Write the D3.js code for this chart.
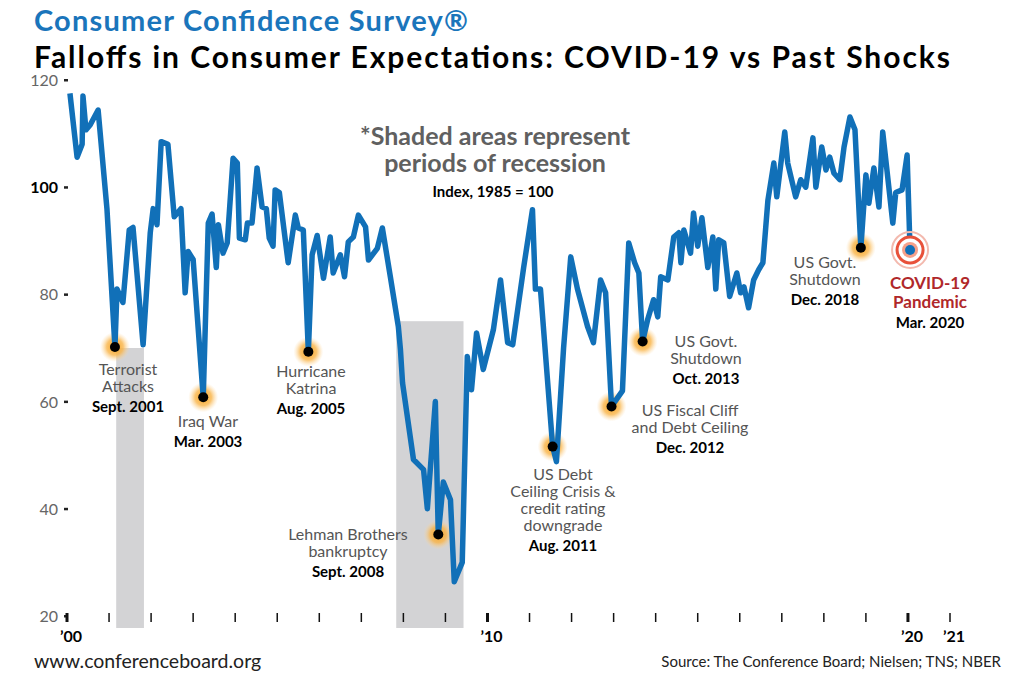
<!DOCTYPE html>
<html><head><meta charset="utf-8">
<script src="https://cdn.jsdelivr.net/npm/d3@7"></script>
<style>body{margin:0;background:#fff}svg{font-family:Lato,"Open Sans",sans-serif}</style>
</head><body>
<svg id="chart" width="1024" height="687"></svg>
<script>
// years since 2000 (decimal) and index values
var dates = [0.07,0.24,0.36,0.38,0.45,0.55,0.74,0.95,1.14,1.19,1.33,1.48,1.57,1.81,1.98,2.05,2.14,2.24,2.40,2.55,2.71,2.81,2.88,3.0,3.24,3.36,3.45,3.55,3.60,3.71,3.81,3.95,4.05,4.10,4.24,4.29,4.40,4.52,4.64,4.74,4.81,4.90,4.95,5.05,5.26,5.43,5.50,5.62,5.74,5.83,5.95,6.10,6.26,6.33,6.50,6.60,6.69,6.81,6.93,7.10,7.17,7.38,7.50,7.69,7.88,7.93,7.98,8.24,8.48,8.57,8.76,8.83,8.95,9.12,9.21,9.40,9.52,9.62,9.74,9.90,10.14,10.31,10.48,10.60,10.86,11.07,11.14,11.26,11.55,11.64,11.81,11.98,12.14,12.38,12.52,12.69,12.81,12.95,13.21,13.36,13.50,13.60,13.69,13.81,13.95,14.05,14.12,14.29,14.43,14.55,14.60,14.67,14.83,14.90,15.00,15.10,15.24,15.36,15.43,15.50,15.62,15.76,15.93,16.02,16.10,16.21,16.33,16.45,16.55,16.67,16.81,16.88,17.07,17.14,17.33,17.45,17.57,17.74,17.81,17.95,18.05,18.14,18.24,18.38,18.48,18.62,18.74,18.88,19.0,19.07,19.19,19.31,19.40,19.50,19.64,19.71,19.86,19.98,20.05];
var values = [117.5,105.6,108,117,110.7,111.6,114.4,96,70.2,81,78.5,92,92.5,70.6,91.5,96,93,108.5,108,94.5,96,80.3,88,86.5,60.8,93.3,95,85,93,87.7,89.6,105.4,104.5,90.5,90.2,93.3,93.3,103.6,96.3,96,90.5,89,99.5,99,85.9,94.8,92.4,92,69.3,87.4,91,83,90.7,84,87.4,83.3,89.8,90.7,94.8,92.6,86.4,88.6,92.4,83.3,74,69.7,63.5,49.2,47.3,40,60,35.2,45,41.7,26.4,30,68.4,62.2,72.8,66,73.4,82.7,71,70.6,85,95.8,81,81,51.6,48.8,70,87,81,74,71,82.7,80.3,59.1,62,89.6,85.9,84,71.2,75.3,79,75.8,83.3,82.7,90.7,91.5,85.9,92,87.7,95.2,89,94.3,85,90.7,81,90.2,89.6,79.6,84,80.3,81.4,77.5,82.7,84.6,85.9,97.6,104.5,98.2,110.3,104.5,98.2,101.4,100,109.2,100,107.5,103.2,105.6,102.6,101.4,107.5,113.1,110.7,88.7,102.3,97,103.6,96.3,110.3,103.2,93.3,99,99.5,106,88.3];
var yTicks = [20,40,60,80,100,120];
var xTickLabels = [[0,"\u201900"],[10,"\u201910"],[20,"\u201920"],[21,"\u201921"]];
var recessions = [[1.17,1.83],[7.83,9.43]];
// events: year, value, text lines, date label
var events = [
  {t:1.14, v:70.2, lines:["Terrorist","Attacks"], date:"Sept. 2001", cx:128, y:375},
  {t:3.24, v:60.8, lines:["Iraq War"], date:"Mar. 2003", cx:208, y:427},
  {t:5.74, v:69.3, lines:["Hurricane","Katrina"], date:"Aug. 2005", cx:311, y:377},
  {t:8.83, v:35.2, lines:["Lehman Brothers","bankruptcy"], date:"Sept. 2008", cx:348, y:540},
  {t:11.55, v:51.6, lines:["US Debt","Ceiling Crisis &","credit rating","downgrade"], date:"Aug. 2011", cx:563, y:480},
  {t:12.95, v:59.1, lines:["US Fiscal Cliff","and Debt Ceiling"], date:"Dec. 2012", cx:690, y:416},
  {t:13.69, v:71.2, lines:["US Govt.","Shutdown"], date:"Oct. 2013", cx:706, y:347},
  {t:18.88, v:88.7, lines:["US Govt.","Shutdown"], date:"Dec. 2018", cx:825, y:268}
];

var svg = d3.select('#chart');
var x = d3.scaleLinear().domain([0, 21]).range([67, 950]);
var y = d3.scaleLinear().domain([20, 120]).range([616, 80]);

var defs = svg.append('defs');
var grad = defs.append('radialGradient').attr('id', 'glow');
grad.append('stop').attr('offset', '0%').attr('stop-color', '#f7a21b').attr('stop-opacity', 1);
grad.append('stop').attr('offset', '55%').attr('stop-color', '#f9b54a').attr('stop-opacity', 0.8);
grad.append('stop').attr('offset', '100%').attr('stop-color', '#fdd9a0').attr('stop-opacity', 0);

// recession shading
svg.append('g').selectAll('rect').data(recessions).enter().append('rect')
  .attr('x', function(d){ return x(d[0]); })
  .attr('width', function(d){ return x(d[1]) - x(d[0]); })
  .attr('y', function(d, i){ return i === 0 ? y(70) : y(75); })
  .attr('height', function(d, i){ return 628 - (i === 0 ? y(70) : y(75)); })
  .attr('fill', '#d3d3d5');

// y axis
var ya = svg.append('g');
yTicks.forEach(function(t){
  ya.append('text').attr('x', 58).attr('y', y(t) + 6).attr('text-anchor', 'end')
    .attr('font-size', 16).attr('fill', t === 100 ? '#000' : '#666')
    .attr('font-weight', t === 100 ? 'bold' : 'normal').text(t);
  ya.append('rect').attr('x', 64).attr('y', y(t) - 1).attr('width', 4).attr('height', 2.5).attr('fill', '#222');
});

// x axis ticks
var xa = svg.append('g');
d3.range(0, 22).forEach(function(t){
  var major = (t === 0 || t === 10 || t === 20);
  xa.append('line').attr('x1', x(t)).attr('x2', x(t)).attr('y1', 613).attr('y2', 622)
    .attr('stroke', '#111').attr('stroke-width', major ? 3 : 1.5);
});
xTickLabels.forEach(function(d){
  xa.append('text').attr('x', x(d[0]) + 4).attr('y', 642).attr('text-anchor', 'middle')
    .attr('font-size', 16).attr('font-weight', 'bold').text(d[1]);
});

// glows
svg.append('g').selectAll('circle').data(events).enter().append('circle')
  .attr('cx', function(d){ return x(d.t); }).attr('cy', function(d){ return y(d.v); })
  .attr('r', 15).attr('fill', 'url(#glow)');

// line
var pts = dates.map(function(d, i){ return [d, values[i]]; });
svg.append('path').datum(pts)
  .attr('d', d3.line().x(function(d){ return x(d[0]); }).y(function(d){ return y(d[1]); }))
  .attr('fill', 'none').attr('stroke', '#1170b8').attr('stroke-width', 5.5)
  .attr('stroke-linejoin', 'round');

// dots
svg.append('g').selectAll('circle').data(events).enter().append('circle')
  .attr('cx', function(d){ return x(d.t); }).attr('cy', function(d){ return y(d.v); })
  .attr('r', 5).attr('fill', '#000');

// labels
events.forEach(function(e){
  var g = svg.append('g').attr('text-anchor', 'middle');
  e.lines.forEach(function(l, i){
    g.append('text').attr('x', e.cx).attr('y', e.y + i * 17).attr('font-size', 16)
      .attr('fill', '#555').text(l);
  });
  g.append('text').attr('x', e.cx).attr('y', e.y + e.lines.length * 17 + 3).attr('font-size', 15)
    .attr('font-weight', 'bold').attr('fill', '#000').text(e.date);
});

// COVID target
var cx = x(dates[dates.length - 1]), cy = y(values[values.length - 1]);
svg.append('circle').attr('cx', cx).attr('cy', cy).attr('r', 18).attr('fill', 'none').attr('stroke', '#f3b9ae').attr('stroke-width', 2);
svg.append('circle').attr('cx', cx).attr('cy', cy).attr('r', 13).attr('fill', '#fff').attr('stroke', '#e8513a').attr('stroke-width', 3);
svg.append('circle').attr('cx', cx).attr('cy', cy).attr('r', 8).attr('fill', '#f6a08a');
svg.append('circle').attr('cx', cx).attr('cy', cy).attr('r', 5).attr('fill', '#1170b8');
var cg = svg.append('g').attr('text-anchor', 'middle').attr('font-weight', 'bold');
cg.append('text').attr('x', 930).attr('y', 289).attr('font-size', 17).attr('fill', '#b0282a').text('COVID-19');
cg.append('text').attr('x', 930).attr('y', 308).attr('font-size', 17).attr('fill', '#b0282a').text('Pandemic');
cg.append('text').attr('x', 930).attr('y', 328).attr('font-size', 15).attr('fill', '#000').text('Mar. 2020');

// center note
var ng = svg.append('g').attr('text-anchor', 'middle').attr('font-weight', 'bold');
ng.append('text').attr('x', 495).attr('y', 145).attr('font-size', 25).attr('fill', '#606060').text('*Shaded areas represent');
ng.append('text').attr('x', 495).attr('y', 172).attr('font-size', 25).attr('fill', '#606060').text('periods of recession');
ng.append('text').attr('x', 493).attr('y', 197).attr('font-size', 15).attr('fill', '#000').text('Index, 1985 = 100');

// titles
svg.append('text').attr('x', 34).attr('y', 31).attr('font-size', 29).attr('font-weight', 'bold')
  .attr('fill', '#1a75bb').attr('textLength', 434).text('Consumer Confidence Survey\u00ae');
svg.append('text').attr('x', 34).attr('y', 68).attr('font-size', 30).attr('font-weight', 'bold')
  .attr('fill', '#000').attr('textLength', 916).text('Falloffs in Consumer Expectations: COVID-19 vs Past Shocks');

// footer
svg.append('text').attr('x', 34).attr('y', 668).attr('font-size', 19.5).attr('fill', '#222').text('www.conferenceboard.org');
svg.append('text').attr('x', 1001).attr('y', 667).attr('font-size', 15).attr('text-anchor', 'end')
  .attr('fill', '#222').text('Source: The Conference Board; Nielsen; TNS; NBER');
</script>
</body></html>
